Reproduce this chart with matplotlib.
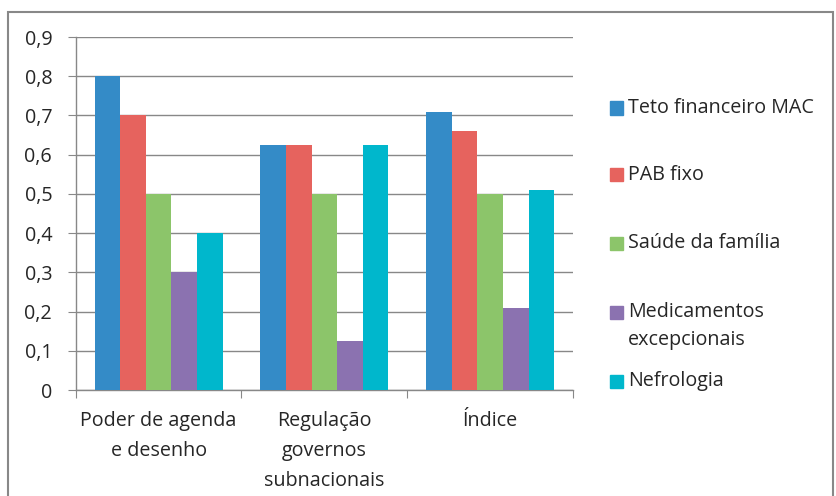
import numpy as np
import matplotlib
matplotlib.use("Agg")
import matplotlib.pyplot as plt
from matplotlib.patches import Rectangle

plt.rcParams["font.family"] = ["Open Sans", "DejaVu Sans"]

categorias = ["Poder de agenda\ne desenho", "Regulação\ngovernos\nsubnacionais", "Índice"]
series = ["Teto financeiro MAC", "PAB fixo", "Saúde da família",
          "Medicamentos\nexcepcionais", "Nefrologia"]
teto = [0.8, 0.625, 0.71]
pab = [0.7, 0.625, 0.66]
saude = [0.5, 0.5, 0.5]
medicamentos = [0.3, 0.125, 0.21]
nefrologia = [0.4, 0.625, 0.51]
valores = [teto, pab, saude, medicamentos, nefrologia]
cores = ["#348bc7", "#e6635e", "#8cc56a", "#8b72b0", "#00b7cc"]

tam = 14.2

fig = plt.figure(figsize=(8.36, 4.96), dpi=100)
ax = fig.add_axes([0.0906, 0.2137, 0.5948, 0.7117])

x = np.arange(1, len(categorias) + 1)
largura = 0.1544
for i, (vals, cor) in enumerate(zip(valores, cores)):
    ax.bar(x + (i - 2) * largura, vals, width=largura, color=cor, zorder=3)

ax.set_xlim(0.5, 3.5)
ax.set_ylim(0, 0.9)
ax.set_yticks(np.arange(0, 0.91, 0.1))
ax.set_yticklabels(["0" if v == 0 else f"{v:.1f}".replace(".", ",") for v in np.arange(0, 0.91, 0.1)])
ax.set_xticks([0.5, 1.5, 2.5, 3.5])
ax.set_xticklabels([])
ax.set_xticks(x, minor=True)
ax.set_xticklabels(categorias, minor=True, linespacing=1.68, va="top")
ax.tick_params(axis="x", which="minor", length=0, pad=15, labelsize=tam, colors="#262626")
ax.tick_params(axis="x", which="major", length=6, color="#888888")
ax.tick_params(axis="y", length=6, color="#888888", labelsize=tam, labelcolor="#262626", pad=11)

ax.grid(axis="y", color="#888888", linewidth=1, zorder=0)
for s in ["top", "right"]:
    ax.spines[s].set_visible(False)
for s in ["left", "bottom"]:
    ax.spines[s].set_color("#888888")
    ax.spines[s].set_linewidth(1)

# legenda manual
leg_y = [108, 175, 243, 326, 381]
for nome, cor, yy in zip(series, cores, leg_y):
    fy = 1 - yy / 496
    if "\n" in nome:
        sq_y = 1 - 312 / 496
    else:
        sq_y = fy
    fig.patches.append(Rectangle((610 / 836, sq_y - 6.5 / 496), 13 / 836, 13 / 496,
                                 transform=fig.transFigure, color=cor))
    fig.text(628 / 836, fy, nome, fontsize=tam, va="center", ha="left",
             color="#262626", linespacing=1.55)

# moldura
fig.patches.append(Rectangle((8 / 836, -0.01), 825 / 836, 1 - 12 / 496 + 0.01,
                             transform=fig.transFigure, fill=False,
                             edgecolor="#888888", linewidth=1.5))

fig.savefig("out.png", dpi=100)
